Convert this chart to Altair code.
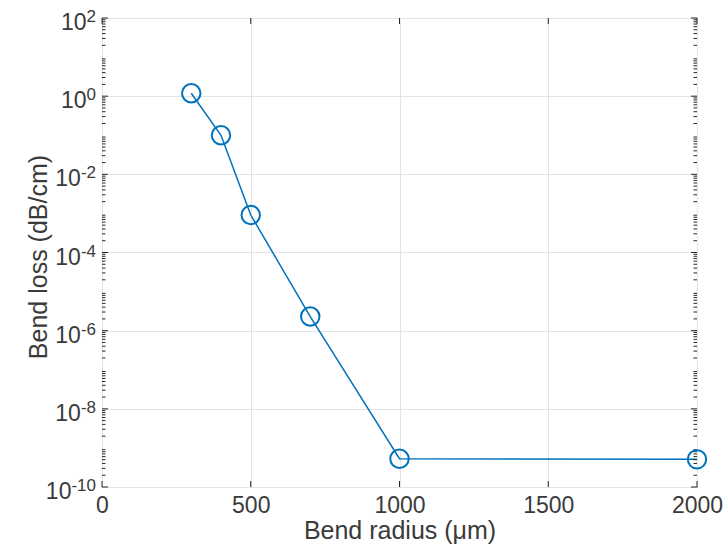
import altair as alt
import pandas as pd

# data
radius = [300, 400, 500, 700, 1000, 2000]
loss = [1.19, 0.1, 9.1e-4, 2.3e-6, 5.3e-10, 5.1e-10]

x_ticks = [0, 500, 1000, 1500, 2000]
y_major = [1e-10, 1e-8, 1e-6, 1e-4, 1e-2, 1e0, 1e2]
y_exp = ["-10", "-8", "-6", "-4", "-2", "0", "2"]
y_minor = [m * 10.0 ** k for k in range(-10, 2) for m in range(2, 10)]

W, H = 595, 469
AX = "#262626"
TXT = "#3a3a3a"
BLUE = "#0072BD"
FONT = "Liberation Sans"
LAB = 23
SUP = 17

df = pd.DataFrame({"radius": radius, "loss": loss})
xmaj = pd.DataFrame({"radius": x_ticks})
ymaj = pd.DataFrame({"loss": y_major})
ymin = pd.DataFrame({"loss": y_minor})
ylab = pd.DataFrame({"loss": y_major, "exp": y_exp})

xscale = alt.Scale(domain=[0, 2000], nice=False, zero=False)
yscale = alt.Scale(type="log", domain=[1e-10, 1e2], nice=False)

xaxis = alt.Axis(
    values=x_ticks, format="d", grid=True, gridColor="#e3e3e3", gridWidth=1,
    ticks=False, tickSize=0, domain=False, labelFontSize=LAB, labelColor=TXT,
    labelFont=FONT, labelPadding=7, title="Bend radius (\u03bcm)",
    titleFont=FONT, titleFontSize=25, titleFontWeight="normal", titleColor=TXT,
    titleY=51, titleBaseline="alphabetic", labelFlush=False,
)
yaxis = alt.Axis(
    values=y_major, grid=True, gridColor="#e3e3e3", gridWidth=1,
    ticks=False, tickSize=0, domain=False, labels=False,
    title="Bend loss (dB/cm)", titleFont=FONT, titleFontSize=25,
    titleFontWeight="normal", titleColor=TXT, titleX=-56, titleY=H / 2 + 4,
    titleBaseline="alphabetic", titleAngle=-90,
)

X = alt.X("radius:Q", scale=xscale, axis=xaxis)
Y = alt.Y("loss:Q", scale=yscale, axis=yaxis)

line = alt.Chart(df).mark_line(color=BLUE, strokeWidth=1.5).encode(x=X, y=Y)
pts = alt.Chart(df).mark_point(
    shape="circle", filled=False, size=340, strokeWidth=2, color=BLUE, opacity=1
).encode(x=X, y=Y)

def yticks(data, length, left=True):
    if left:
        xs = dict(x=alt.value(0), x2=alt.value(length))
    else:
        xs = dict(x=alt.value(W - length), x2=alt.value(W))
    return alt.Chart(data).mark_rule(color=AX, strokeWidth=1).encode(y=Y, **xs)

def xticks(data, length, bottom=True):
    if bottom:
        ys = dict(y=alt.value(H - length), y2=alt.value(H))
    else:
        ys = dict(y=alt.value(0), y2=alt.value(length))
    return alt.Chart(data).mark_rule(color=AX, strokeWidth=1).encode(x=X, **ys)

# y tick labels drawn as "10" + raised exponent
exp_layer = alt.Chart(ylab).mark_text(
    align="right", baseline="alphabetic", font=FONT, fontSize=SUP, color=TXT,
    dx=-6, dy=4,
).encode(y=Y, x=alt.value(0), text="exp:N")

sup_w = {1: 0.556 * SUP, 2: (0.333 + 0.556) * SUP, 3: (0.333 + 2 * 0.556) * SUP}
ten_layers = [
    alt.Chart(ylab).transform_filter(f"length(datum.exp) == {n}").mark_text(
        align="right", baseline="alphabetic", font=FONT, fontSize=LAB,
        color=TXT, dx=-6 - w, dy=12, text="10",
    ).encode(y=Y, x=alt.value(0))
    for n, w in sup_w.items()
]

chart = alt.layer(
    line,
    yticks(ymaj, 6, True), yticks(ymin, 3.5, True),
    yticks(ymaj, 6, False), yticks(ymin, 3.5, False),
    xticks(xmaj, 6, True), xticks(xmaj, 6, False),
    exp_layer, *ten_layers,
    pts,
).properties(
    width=W, height=H,
    autosize=alt.AutoSizeParams(type="none"),
    padding={"left": 102, "top": 18, "right": 26, "bottom": 59},
    background="white",
).configure_view(
    stroke=AX, strokeWidth=1
)

chart.save("out.html", embed_options={"renderer": "svg", "actions": False})
